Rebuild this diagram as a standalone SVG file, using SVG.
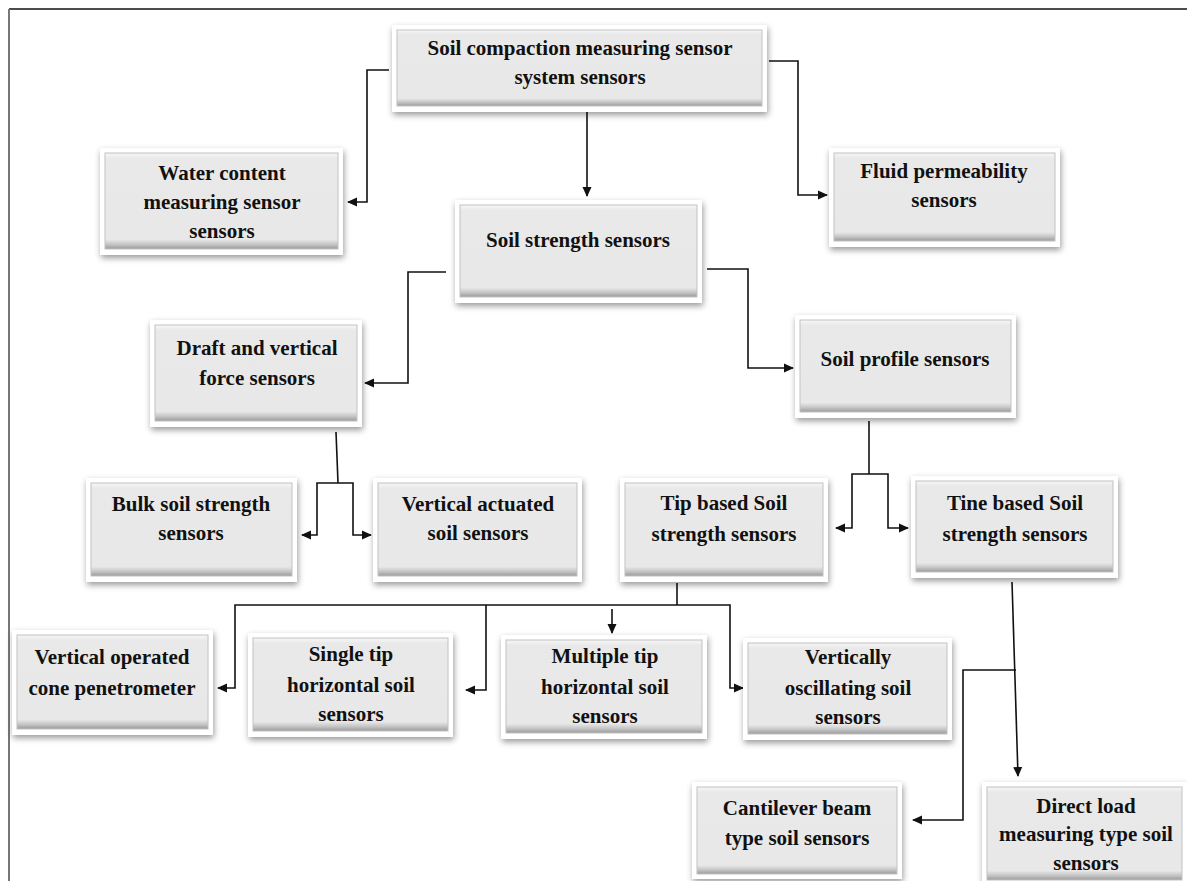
<svg xmlns="http://www.w3.org/2000/svg" width="1187" height="881" viewBox="0 0 1187 881">
<defs>
<style>
.o{fill:#fff;filter:url(#sh)}
.i{fill:url(#g);stroke:#c2c2c2;stroke-width:1}
.t{font-family:"Liberation Serif","Times New Roman",serif;font-weight:bold;font-size:21px;fill:#111;text-anchor:middle}
.c{fill:none;stroke:#111;stroke-width:1.6}
.a{marker-end:url(#ah)}
</style>
<filter id="sh" x="-10%" y="-15%" width="125%" height="140%">
<feDropShadow dx="1" dy="3" stdDeviation="3" flood-color="#000" flood-opacity="0.4"/>
</filter>
<linearGradient id="g" x1="0" y1="0" x2="0" y2="1">
<stop offset="0" stop-color="#f6f6f6"/>
<stop offset="0.06" stop-color="#e9e9e9"/>
<stop offset="0.9" stop-color="#e8e8e8"/>
<stop offset="0.95" stop-color="#c6c6c6"/>
<stop offset="1" stop-color="#9a9a9a"/>
</linearGradient>
<marker id="ah" markerWidth="10" markerHeight="10" refX="9" refY="5" orient="auto" markerUnits="userSpaceOnUse">
<path d="M0,0.5 L10,5 L0,9.5 z" fill="#111"/>
</marker>
</defs>
<rect width="1187" height="881" fill="#fff"/>
<line x1="9" y1="9" x2="1187" y2="9" stroke="#111" stroke-width="1.6"/>
<line x1="9" y1="9" x2="9" y2="881" stroke="#777" stroke-width="2"/>

<g id="connectors">
<polyline class="c a" points="389,70 367,70 367,202 348,202"/>
<polyline class="c a" points="587,112 587,196"/>
<polyline class="c a" points="769,61 798,61 798,195 827,195"/>
<polyline class="c a" points="446,272 408,272 408,383 365,383"/>
<polyline class="c a" points="707,269 748,269 748,368 793,368"/>
<polyline class="c" points="336,432 338,483"/>
<polyline class="c a" points="338,483 317,483 317,535 302,535"/>
<polyline class="c a" points="338,483 353,483 353,535 371,535"/>
<polyline class="c" points="869,421 869,474"/>
<polyline class="c a" points="869,474 852,474 852,528 836,528"/>
<polyline class="c a" points="869,474 888,474 888,528 908,528"/>
<polyline class="c" points="677,583 677,605"/>
<polyline class="c a" points="486,605 235,605 235,688 218,688"/>
<polyline class="c a" points="486,605 486,690 466,690"/>
<polyline class="c a" points="612,609 612,633"/>
<polyline class="c a" points="486,605 730,605 730,688 743,688"/>
<polyline class="c a" points="1012,582 1018,776"/>
<polyline class="c a" points="1016,670 963,670 963,820 913,820"/>
</g>

<g id="n-compaction">
<rect class="o" x="392" y="25" width="375" height="87"/>
<rect class="i" x="397" y="30" width="365" height="76"/>
<text class="t" x="580" y="55">Soil compaction measuring sensor</text>
<text class="t" x="580" y="84">system sensors</text>
</g>
<g id="n-water">
<rect class="o" x="100" y="148" width="243" height="107"/>
<rect class="i" x="105" y="153" width="233" height="96"/>
<text class="t" x="222" y="180">Water content</text>
<text class="t" x="222" y="209">measuring sensor</text>
<text class="t" x="222" y="238">sensors</text>
</g>
<g id="n-fluid">
<rect class="o" x="829" y="148" width="231" height="99"/>
<rect class="i" x="834" y="153" width="221" height="88"/>
<text class="t" x="944" y="178">Fluid permeability</text>
<text class="t" x="944" y="207">sensors</text>
</g>
<g id="n-strength">
<rect class="o" x="455" y="200" width="247" height="103"/>
<rect class="i" x="460" y="205" width="237" height="92"/>
<text class="t" x="578" y="247">Soil strength sensors</text>
</g>
<g id="n-draft">
<rect class="o" x="150" y="320" width="212" height="107"/>
<rect class="i" x="155" y="325" width="202" height="96"/>
<text class="t" x="257" y="355">Draft and vertical</text>
<text class="t" x="257" y="385">force sensors</text>
</g>
<g id="n-profile">
<rect class="o" x="795" y="315" width="221" height="103"/>
<rect class="i" x="800" y="320" width="211" height="92"/>
<text class="t" x="905" y="366">Soil profile sensors</text>
</g>
<g id="n-bulk">
<rect class="o" x="86" y="478" width="211" height="104"/>
<rect class="i" x="91" y="483" width="201" height="93"/>
<text class="t" x="191" y="511">Bulk soil strength</text>
<text class="t" x="191" y="540">sensors</text>
</g>
<g id="n-vactuated">
<rect class="o" x="373" y="478" width="209" height="104"/>
<rect class="i" x="378" y="483" width="199" height="93"/>
<text class="t" x="478" y="511">Vertical actuated</text>
<text class="t" x="478" y="540">soil sensors</text>
</g>
<g id="n-tip">
<rect class="o" x="620" y="478" width="208" height="104"/>
<rect class="i" x="625" y="483" width="198" height="93"/>
<text class="t" x="724" y="510">Tip based Soil</text>
<text class="t" x="724" y="541">strength sensors</text>
</g>
<g id="n-tine">
<rect class="o" x="911" y="476" width="207" height="102"/>
<rect class="i" x="916" y="481" width="197" height="91"/>
<text class="t" x="1015" y="510">Tine based Soil</text>
<text class="t" x="1015" y="541">strength sensors</text>
</g>
<g id="n-cone">
<rect class="o" x="12" y="630" width="201" height="105"/>
<rect class="i" x="17" y="635" width="191" height="94"/>
<text class="t" x="112" y="664">Vertical operated</text>
<text class="t" x="112" y="695">cone penetrometer</text>
</g>
<g id="n-single">
<rect class="o" x="248" y="633" width="205" height="104"/>
<rect class="i" x="253" y="638" width="195" height="93"/>
<text class="t" x="351" y="661">Single tip</text>
<text class="t" x="351" y="692">horizontal soil</text>
<text class="t" x="351" y="721">sensors</text>
</g>
<g id="n-multiple">
<rect class="o" x="501" y="635" width="206" height="104"/>
<rect class="i" x="506" y="640" width="196" height="93"/>
<text class="t" x="605" y="663">Multiple tip</text>
<text class="t" x="605" y="694">horizontal soil</text>
<text class="t" x="605" y="723">sensors</text>
</g>
<g id="n-oscillating">
<rect class="o" x="743" y="638" width="209" height="102"/>
<rect class="i" x="748" y="643" width="199" height="91"/>
<text class="t" x="848" y="664">Vertically</text>
<text class="t" x="848" y="695">oscillating soil</text>
<text class="t" x="848" y="724">sensors</text>
</g>
<g id="n-cantilever">
<rect class="o" x="692" y="782" width="210" height="97"/>
<rect class="i" x="697" y="787" width="200" height="87"/>
<text class="t" x="797" y="815">Cantilever beam</text>
<text class="t" x="797" y="845">type soil sensors</text>
</g>
<g id="n-direct">
<rect class="o" x="982" y="782" width="205" height="104"/>
<rect class="i" x="987" y="787" width="195" height="93"/>
<text class="t" x="1086" y="813">Direct load</text>
<text class="t" x="1086" y="841">measuring type soil</text>
<text class="t" x="1086" y="870">sensors</text>
</g>
</svg>
